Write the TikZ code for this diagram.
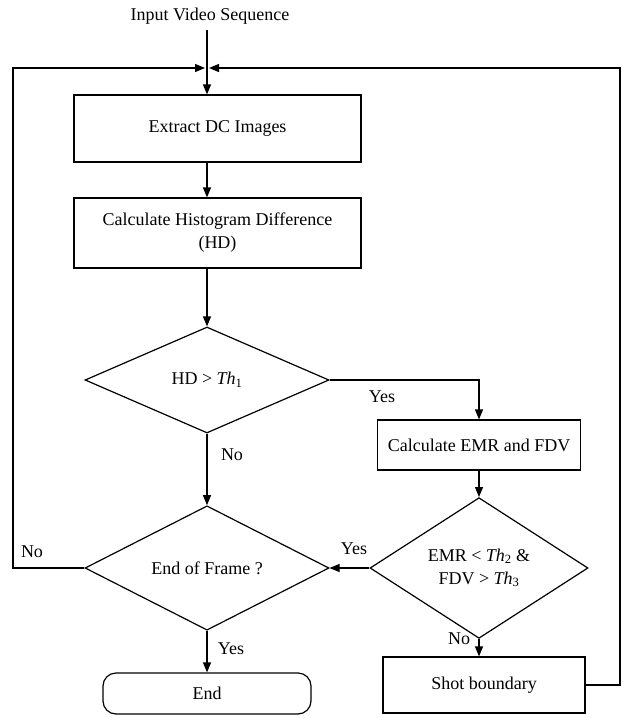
\documentclass[tikz,border=0pt]{standalone}
\usepackage{fontspec}
\setmainfont{Liberation Serif}
\usetikzlibrary{arrows.meta,shapes.geometric}
\begin{document}
\begin{tikzpicture}[x=1pt,y=-1pt,
  every node/.style={font=\fontsize{18}{23}\selectfont},
  line/.style={line width=1.2pt},
  arr/.style={line width=1.2pt, -{Triangle[length=10pt,width=8pt]}},
  procbox/.style={draw, line width=1.2pt, rectangle, inner sep=0pt, align=center},
  decide/.style={draw, line width=1.2pt, diamond, inner sep=0pt, align=center},
  lbl/.style={inner sep=0pt}]
\useasboundingbox (0,0) rectangle (622,718);

\node[lbl] (title) at (210,16) {Input Video Sequence};
\coordinate (in) at (207,30);
\node[procbox, minimum width=287pt, minimum height=67pt] (b1) at (217.5,128.5) {Extract DC Images};
\node[procbox, minimum width=287pt, minimum height=70pt] (b2) at (217.5,233) {Calculate Histogram Difference\\(HD)};
\node[decide, minimum width=244pt, minimum height=106pt] (d1) at (207,380) {HD > \textit{Th}\textsubscript{1}};
\node[procbox, minimum width=203pt, minimum height=50pt] (b3) at (479,445) {Calculate EMR and FDV};
\node[decide, minimum width=218pt, minimum height=110pt] (d2) at (479,568) {EMR < \textit{Th}\textsubscript{2} \&\\FDV > \textit{Th}\textsubscript{3}};
\node[decide, minimum width=244pt, minimum height=112pt] (d3) at (207,568) {End of Frame ?};
\node[draw, line width=1.2pt, rounded corners=13pt, minimum width=208pt, minimum height=41pt, inner sep=0pt] (end) at (207,693.5) {End};
\node[procbox, minimum width=202pt, minimum height=56pt] (sb) at (484,685) {Shot boundary};

\coordinate (tl) at (205,68);
\coordinate (tr) at (209,68);
\coordinate (lc) at (13,68);
\coordinate (rc) at (620,68);

\draw[arr] (in) -- (in |- b1.north);
\draw[arr] (b1.south -| in) -- (b2.north -| in);
\draw[arr] (b2.south -| in) -- (d1.north);
\draw[arr] (d1.east) -| (b3.north);
\draw[arr] (b3.south) -- (d2.north);
\draw[arr] (d1.south) -- (d3.north);
\draw[arr] (d2.west) -- (d3.east);
\draw[arr] (d3.south) -- (end.north);
\draw[arr] (d2.south) -- (d2.south |- sb.north);
\draw[arr] (sb.east) -| (rc) -- (tr);
\draw[arr] (d3.west) -| (lc) -- (tl);

\node[lbl] (l1) at (382,397) {Yes};
\node[lbl] (l2) at (232,455) {No};
\node[lbl] (l3) at (354,549) {Yes};
\node[lbl] (l4) at (32,552) {No};
\node[lbl] (l5) at (231,649) {Yes};
\node[lbl] (l6) at (459,639) {No};
\end{tikzpicture}
\end{document}
